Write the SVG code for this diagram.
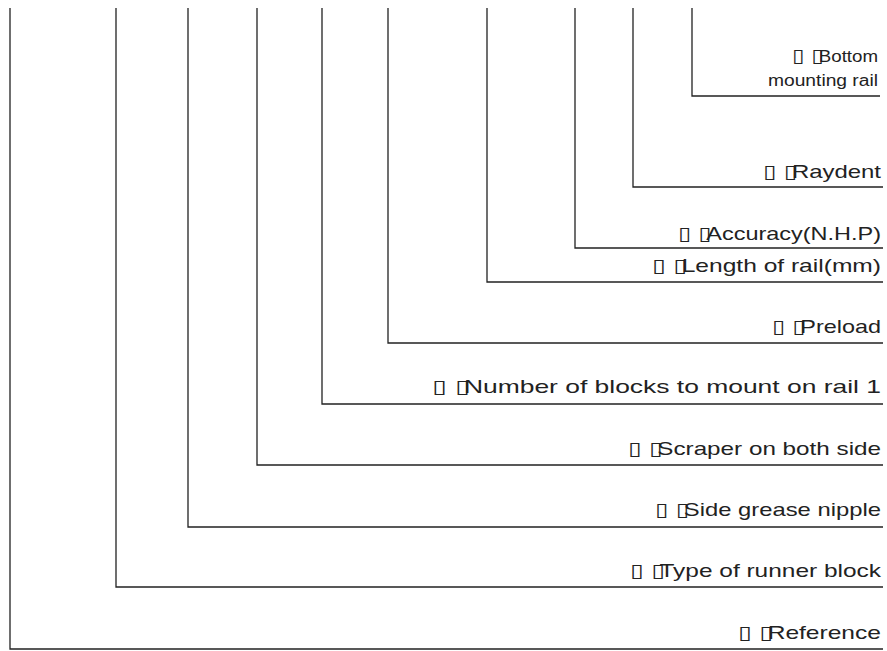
<svg xmlns="http://www.w3.org/2000/svg" width="887" height="651" viewBox="0 0 887 651">
<style>
.c{fill:none;stroke:#222;stroke-width:1.3}
.t{font-family:"Liberation Sans","DejaVu Sans",sans-serif;font-size:19px;fill:#222;text-anchor:end}
.s{font-size:16px}
.b{font-family:"DejaVu Sans",sans-serif;font-size:19px}
</style>
<rect width="887" height="651" fill="#fff"/>
<g id="connectors">
<polyline class="c" points="10,8 10,649 883,649"/>
<polyline class="c" points="116,8 116,587 883,587"/>
<polyline class="c" points="188,8 188,527 883,527"/>
<polyline class="c" points="257,8 257,465 883,465"/>
<polyline class="c" points="322,8 322,404 883,404"/>
<polyline class="c" points="388,8 388,343 883,343"/>
<polyline class="c" points="487,8 487,282 883,282"/>
<polyline class="c" points="575,8 575,248 883,248"/>
<polyline class="c" points="633,8 633,187 883,187"/>
<polyline class="c" points="692,8 692,96 880,96"/>
</g>
<g id="n-bottom">
<text class="t s" x="878" y="62" textLength="86" lengthAdjust="spacingAndGlyphs"><tspan class="b" font-size="17">▯ ▯</tspan><tspan dx="-4">Bottom</tspan></text>
<text class="t s" x="878" y="86" textLength="110" lengthAdjust="spacingAndGlyphs">mounting rail</text>
</g>
<g id="n-raydent">
<text class="t" x="881" y="178" textLength="118" lengthAdjust="spacingAndGlyphs"><tspan class="b">▯ ▯</tspan><tspan dx="-4">Raydent</tspan></text>
</g>
<g id="n-accuracy">
<text class="t" x="881" y="240" textLength="203" lengthAdjust="spacingAndGlyphs"><tspan class="b">▯ ▯</tspan><tspan dx="-4">Accuracy(N.H.P)</tspan></text>
</g>
<g id="n-length">
<text class="t" x="881" y="272" textLength="229" lengthAdjust="spacingAndGlyphs"><tspan class="b">▯ ▯</tspan><tspan dx="-4">Length of rail(mm)</tspan></text>
</g>
<g id="n-preload">
<text class="t" x="881" y="333" textLength="109" lengthAdjust="spacingAndGlyphs"><tspan class="b">▯ ▯</tspan><tspan dx="-4">Preload</tspan></text>
</g>
<g id="n-number">
<text class="t" x="881" y="393" textLength="449" lengthAdjust="spacingAndGlyphs"><tspan class="b">▯ ▯</tspan><tspan dx="-4">Number of blocks to mount on rail 1</tspan></text>
</g>
<g id="n-scraper">
<text class="t" x="881" y="455" textLength="253" lengthAdjust="spacingAndGlyphs"><tspan class="b">▯ ▯</tspan><tspan dx="-4">Scraper on both side</tspan></text>
</g>
<g id="n-side">
<text class="t" x="881" y="516" textLength="226" lengthAdjust="spacingAndGlyphs"><tspan class="b">▯ ▯</tspan><tspan dx="-4">Side grease nipple</tspan></text>
</g>
<g id="n-type">
<text class="t" x="881" y="577" textLength="251" lengthAdjust="spacingAndGlyphs"><tspan class="b">▯ ▯</tspan><tspan dx="-4">Type of runner block</tspan></text>
</g>
<g id="n-reference">
<text class="t" x="881" y="639" textLength="143" lengthAdjust="spacingAndGlyphs"><tspan class="b">▯ ▯</tspan><tspan dx="-4">Reference</tspan></text>
</g>
</svg>
